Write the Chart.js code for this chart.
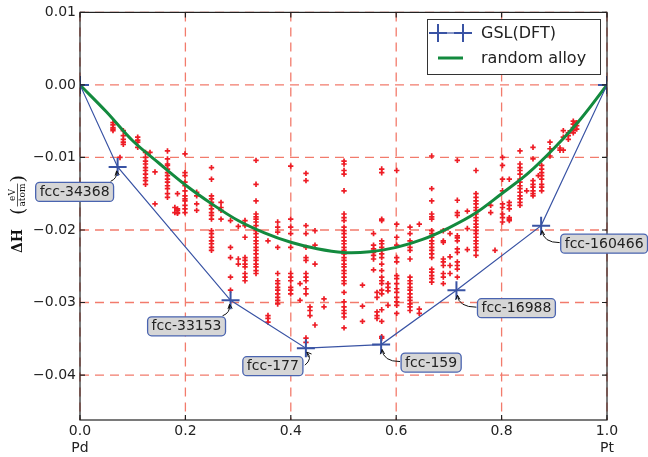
<!DOCTYPE html>
<html><head><meta charset="utf-8">
<script src="https://cdn.jsdelivr.net/npm/chart.js@4/dist/chart.umd.min.js"></script>
<style>html,body{margin:0;padding:0;background:#fff}canvas{display:block}</style>
</head><body>
<canvas id="c" width="648" height="457"></canvas>
<script>
// ---------- data ----------
const xTicks = [0, 0.2, 0.4, 0.6, 0.8, 1.0];
const yTicks = [0.01, 0, -0.01, -0.02, -0.03, -0.04];
const xEndNames = ['Pd', 'Pt'];

const alloyX = [0, 0.05, 0.1, 0.15, 0.2, 0.25, 0.3, 0.35, 0.4, 0.45, 0.5, 0.55, 0.6, 0.65, 0.7, 0.75, 0.8, 0.85, 0.9, 0.95, 1.0];
const alloyY = [0, -0.0037, -0.0077, -0.0108, -0.0138, -0.0164, -0.0187, -0.0204, -0.0217, -0.0226, -0.0231, -0.0230, -0.0224, -0.0213, -0.0197, -0.0177, -0.0150, -0.0122, -0.0087, -0.0047, 0];

const gslX = [0, 0.0714, 0.2857, 0.4286, 0.5714, 0.7143, 0.875, 1.0];
const gslY = [0, -0.0113, -0.0297, -0.0363, -0.0358, -0.0283, -0.0194, 0];
const gslNames = ['', 'fcc-34368', 'fcc-33153', 'fcc-177', 'fcc-159', 'fcc-16988', 'fcc-160466', ''];

const scatterX = [0.0626, 0.0759, 0.0822, 0.1095, 0.1243, 0.1328, 0.1423, 0.1660, 0.1800, 0.1850, 0.1992, 0.2214, 0.2495, 0.2676, 0.2856, 0.3004, 0.3131, 0.3340, 0.3567, 0.3751, 0.3998, 0.4175, 0.4288, 0.4364, 0.4459, 0.4630, 0.5010, 0.5360, 0.5570, 0.5636, 0.5725, 0.5844, 0.6010, 0.6262, 0.6438, 0.6674, 0.6894, 0.7021, 0.7160, 0.7350, 0.7514, 0.7793, 0.7875, 0.8017, 0.8146, 0.8349, 0.8476, 0.8596, 0.8697, 0.8760, 0.8918, 0.9108, 0.9171, 0.9266, 0.9360, 0.9425];
const scatterY = [
  [-0.0052,-0.0055,-0.0059,-0.0061,-0.0063],
  [-0.0100],
  [-0.0063,-0.0070,-0.0075,-0.0079,-0.0082],
  [-0.0072,-0.0076,-0.0079,-0.0086],
  [-0.0093,-0.0100,-0.0105,-0.0109,-0.0114,-0.0118,-0.0123,-0.0128,-0.0132,-0.0137],
  [-0.0093],
  [-0.0120,-0.0164],
  [-0.0091,-0.0102,-0.0109,-0.0111,-0.0116,-0.0121,-0.0125,-0.0130,-0.0134,-0.0139,-0.0143,-0.0150,-0.0155],
  [-0.0169,-0.0176],
  [-0.0150,-0.0171,-0.0173,-0.0176,-0.0177],
  [-0.0095,-0.0121,-0.0125,-0.0134,-0.0139,-0.0146,-0.0153,-0.0157,-0.0160,-0.0166,-0.0171,-0.0176],
  [-0.0148,-0.0153,-0.0164,-0.0173],
  [-0.0114,-0.0130,-0.0153,-0.0157,-0.0162,-0.0166,-0.0171,-0.0176,-0.0180,-0.0185,-0.0201,-0.0205,-0.0210,-0.0215,-0.0219,-0.0224,-0.0228],
  [-0.0162,-0.0169,-0.0173,-0.0185],
  [-0.0187,-0.0224,-0.0238,-0.0265,-0.0283],
  [-0.0195,-0.0240,-0.0247],
  [-0.0187,-0.0194,-0.0210,-0.0238,-0.0242,-0.0247,-0.0251,-0.0260,-0.0265,-0.0270],
  [-0.0104,-0.0137,-0.0160,-0.0178,-0.0182,-0.0185,-0.0189,-0.0194,-0.0201,-0.0205,-0.0210,-0.0215,-0.0219,-0.0224,-0.0228,-0.0233,-0.0238,-0.0242,-0.0247,-0.0251,-0.0256,-0.0260],
  [-0.0215,-0.0318,-0.0322,-0.0327],
  [-0.0189,-0.0196,-0.0203,-0.0224,-0.0260,-0.0270,-0.0274,-0.0279,-0.0283,-0.0288,-0.0293,-0.0297,-0.0302],
  [-0.0112,-0.0185,-0.0196,-0.0205,-0.0224,-0.0260,-0.0265,-0.0270,-0.0279,-0.0283,-0.0288],
  [-0.0274,-0.0297],
  [-0.0122,-0.0132,-0.0194,-0.0205,-0.0224,-0.0238,-0.0242,-0.0260,-0.0265,-0.0270,-0.0281,-0.0288,-0.0349,-0.0355],
  [-0.0306,-0.0311,-0.0318],
  [-0.0201,-0.0221,-0.0247,-0.0331],
  [-0.0295,-0.0306],
  [-0.0105,-0.0109,-0.0118,-0.0123,-0.0146,-0.0178,-0.0183,-0.0187,-0.0196,-0.0201,-0.0205,-0.0210,-0.0215,-0.0219,-0.0224,-0.0228,-0.0233,-0.0238,-0.0242,-0.0247,-0.0251,-0.0256,-0.0260,-0.0265,-0.0270,-0.0274,-0.0286,-0.0299,-0.0306,-0.0311,-0.0315,-0.0320,-0.0335],
  [-0.0276,-0.0305,-0.0326],
  [-0.0205,-0.0221,-0.0226,-0.0231,-0.0235,-0.0240,-0.0255],
  [-0.0286,-0.0293,-0.0313,-0.0318,-0.0322],
  [-0.0116,-0.0121,-0.0185,-0.0187,-0.0215,-0.0219,-0.0224,-0.0228,-0.0233,-0.0238,-0.0247,-0.0256,-0.0265,-0.0270,-0.0274,-0.0283,-0.0288,-0.0310,-0.0326,-0.0347,-0.0349],
  [-0.0274,-0.0279,-0.0284,-0.0304],
  [-0.0118,-0.0192,-0.0210,-0.0221,-0.0238,-0.0244,-0.0263,-0.0267,-0.0274,-0.0281,-0.0286,-0.0293,-0.0299,-0.0304,-0.0315],
  [-0.0196,-0.0205,-0.0215,-0.0224,-0.0228,-0.0240,-0.0265,-0.0270,-0.0274,-0.0279,-0.0283,-0.0288,-0.0293,-0.0297,-0.0302,-0.0306,-0.0311],
  [-0.0192,-0.0309,-0.0315],
  [-0.0098,-0.0143,-0.0160,-0.0178,-0.0182,-0.0185,-0.0201,-0.0205,-0.0210,-0.0215,-0.0219,-0.0224,-0.0228,-0.0233,-0.0238,-0.0254,-0.0258,-0.0263,-0.0267,-0.0272],
  [-0.0201,-0.0215,-0.0217,-0.0240,-0.0244,-0.0249,-0.0260,-0.0265,-0.0274],
  [-0.0205,-0.0237,-0.0249,-0.0260],
  [-0.0104,-0.0159,-0.0176,-0.0180,-0.0208,-0.0211,-0.0215,-0.0226,-0.0231,-0.0244,-0.0249,-0.0254,-0.0265],
  [-0.0174,-0.0198,-0.0227],
  [-0.0118,-0.0150,-0.0155,-0.0160,-0.0164,-0.0169,-0.0173,-0.0178,-0.0183,-0.0187,-0.0192,-0.0196,-0.0201,-0.0205,-0.0210,-0.0215,-0.0219,-0.0224,-0.0228,-0.0235],
  [-0.0166,-0.0176],
  [-0.0228],
  [-0.0100,-0.0111,-0.0130,-0.0146,-0.0164,-0.0169,-0.0178,-0.0183,-0.0189],
  [-0.0130,-0.0162,-0.0166,-0.0171,-0.0183,-0.0185,-0.0187],
  [-0.0091,-0.0109,-0.0114,-0.0118,-0.0123,-0.0130,-0.0134,-0.0139,-0.0143,-0.0148,-0.0153,-0.0157,-0.0162,-0.0166],
  [-0.0146],
  [-0.0086,-0.0102,-0.0132,-0.0137,-0.0141,-0.0146,-0.0150,-0.0153],
  [-0.0125],
  [-0.0111,-0.0116,-0.0121,-0.0125,-0.0130,-0.0137,-0.0141,-0.0146],
  [-0.0079,-0.0088,-0.0098],
  [-0.0087,-0.0090],
  [-0.0063,-0.0072,-0.0090],
  [-0.0066,-0.0070,-0.0075],
  [-0.0050,-0.0054,-0.0059,-0.0063,-0.0066],
  [-0.0052,-0.0056,-0.0061]
];

// ---------- styling ----------
const RED = '#ee1c25', BLUE = '#3953a4', GREEN = '#138a3e', GRID = '#f27b6c', INK = '#222222';
const FONT = '"DejaVu Sans", sans-serif';
const annotStyle = [null, [-43, 25, 'up'], [-44, 26, 'up'], [-33, 18, 'curl'], [50, 18, 'side'], [60, 18, 'side'], [63, 18, 'side'], null];

const scatterPts = scatterX.flatMap((x, i) => scatterY[i].map(y => ({x, y})));
const alloyPts = alloyX.map((x, i) => ({x, y: alloyY[i]}));
const gslPts = gslX.map((x, i) => ({x, y: gslY[i]}));

const gridPlugin = {
  id: 'grid',
  beforeDatasetsDraw(chart) {
    const {ctx, chartArea: a, scales: {x, y}} = chart;
    ctx.save();
    ctx.strokeStyle = GRID; ctx.lineWidth = 1.3; ctx.setLineDash([9, 6]);
    xTicks.forEach(v => { const p = x.getPixelForValue(v); ctx.beginPath(); ctx.moveTo(p, a.top); ctx.lineTo(p, a.bottom); ctx.stroke(); });
    yTicks.forEach(v => { const p = y.getPixelForValue(v); ctx.beginPath(); ctx.moveTo(a.left, p); ctx.lineTo(a.right, p); ctx.stroke(); });
    ctx.restore();
  }
};

function arrow(ctx, sx, sy, cx, cy, ex, ey) {
  ctx.beginPath(); ctx.moveTo(sx, sy); ctx.quadraticCurveTo(cx, cy, ex, ey); ctx.stroke();
  const ang = Math.atan2(ey - cy, ex - cx), L = 5, w = 0.45;
  ctx.beginPath();
  ctx.moveTo(ex - L * Math.cos(ang - w), ey - L * Math.sin(ang - w));
  ctx.lineTo(ex, ey);
  ctx.lineTo(ex - L * Math.cos(ang + w), ey - L * Math.sin(ang + w));
  ctx.stroke();
}

const framePlugin = {
  id: 'frame',
  afterDatasetsDraw(chart) {
    const {ctx, chartArea: a, scales: {x, y}} = chart;
    ctx.save();
    ctx.strokeStyle = INK; ctx.lineWidth = 1.2; ctx.setLineDash([]);
    ctx.strokeRect(a.left, a.top, a.right - a.left, a.bottom - a.top);
    const T = 5;
    xTicks.forEach(v => { const p = x.getPixelForValue(v);
      ctx.beginPath(); ctx.moveTo(p, a.bottom); ctx.lineTo(p, a.bottom - T); ctx.moveTo(p, a.top); ctx.lineTo(p, a.top + T); ctx.stroke(); });
    yTicks.forEach(v => { const p = y.getPixelForValue(v);
      ctx.beginPath(); ctx.moveTo(a.left, p); ctx.lineTo(a.left + T, p); ctx.moveTo(a.right, p); ctx.lineTo(a.right - T, p); ctx.stroke(); });

    ctx.font = '14px ' + FONT;
    gslNames.forEach((name, i) => {
      const st = annotStyle[i];
      if (!name || !st) return;
      const px = x.getPixelForValue(gslX[i]), py = y.getPixelForValue(gslY[i]);
      const cx = px + st[0], cy = py + st[1];
      const tw = ctx.measureText(name).width;
      const bw = tw + 8, bh = 19;
      const bl = cx - bw / 2, bt = cy - bh / 2;
      ctx.strokeStyle = '#111'; ctx.lineWidth = 1;
      if (st[2] === 'side') {
        const sx = bl - 1, sy = cy - 1, ex = px + 1, ey = py + 5;
        arrow(ctx, sx, sy, ex + 1, sy, ex, ey);
      } else if (st[2] === 'up') {
        const sx = bl + bw - 3, sy = bt - 1, ex = px - 1, ey = py + 4;
        arrow(ctx, sx, sy, ex + 1, sy - 3, ex, ey);
      } else {
        const sx = bl + bw + 2, sy = cy - 1, ex = px + 1, ey = py + 4;
        arrow(ctx, sx, sy, sx + 8, (sy + ey) / 2, ex, ey);
      }
      ctx.beginPath(); ctx.roundRect(bl, bt, bw, bh, 4);
      ctx.fillStyle = '#d6d6d6'; ctx.fill();
      ctx.strokeStyle = '#4a64b0'; ctx.lineWidth = 1.3; ctx.stroke();
      ctx.fillStyle = INK; ctx.textAlign = 'center'; ctx.textBaseline = 'middle';
      ctx.fillText(name, cx, cy + 0.5);
    });

    const ds = chart.data.datasets;
    const L = {l: 427, t: 19, r: 600, b: 74};
    ctx.fillStyle = '#fff'; ctx.fillRect(L.l, L.t, L.r - L.l, L.b - L.t);
    ctx.strokeStyle = '#333'; ctx.lineWidth = 1; ctx.strokeRect(L.l + 0.5, L.t + 0.5, L.r - L.l, L.b - L.t);
    const hx0 = 438, hx1 = 463, tx = 481, r1 = 33, r2 = 58;
    ctx.strokeStyle = ds[0].borderColor; ctx.lineWidth = 1.2;
    ctx.beginPath(); ctx.moveTo(hx0, r1); ctx.lineTo(hx1, r1); ctx.stroke();
    ctx.lineWidth = 2;
    [hx0, hx1].forEach(h => { ctx.beginPath(); ctx.moveTo(h - 9, r1); ctx.lineTo(h + 9, r1); ctx.moveTo(h, r1 - 9); ctx.lineTo(h, r1 + 9); ctx.stroke(); });
    ctx.strokeStyle = ds[1].borderColor; ctx.lineWidth = 3;
    ctx.beginPath(); ctx.moveTo(hx0, r2); ctx.lineTo(hx1, r2); ctx.stroke();
    ctx.fillStyle = INK; ctx.font = '16px ' + FONT; ctx.textAlign = 'left'; ctx.textBaseline = 'middle';
    ctx.fillText(ds[0].label, tx, r1 + 1);
    ctx.fillText(ds[1].label, tx, r2 + 1);
    ctx.restore();
  },
  afterDraw(chart) {
    const ctx = chart.ctx;
    ctx.save();
    ctx.setTransform(1, 0, 0, 1, 0, 0);
    ctx.translate(17, 253); ctx.rotate(-Math.PI / 2);
    ctx.fillStyle = '#111'; ctx.textBaseline = 'alphabetic'; ctx.textAlign = 'left';
    ctx.font = 'bold 14px "DejaVu Serif", serif';
    ctx.fillText('\u0394H', 0, 5);
    let cx = ctx.measureText('\u0394H').width + 14;
    ctx.font = '19px "DejaVu Serif", serif';
    ctx.fillText('(', cx, 7);
    cx += ctx.measureText('(').width + 1;
    ctx.font = '9px "DejaVu Serif", serif';
    const fw = ctx.measureText('atom').width;
    ctx.textAlign = 'center';
    ctx.fillText('eV', cx + fw / 2, -2);
    ctx.fillText('atom', cx + fw / 2, 8);
    ctx.strokeStyle = '#111'; ctx.lineWidth = 0.7;
    ctx.beginPath(); ctx.moveTo(cx, 0.5); ctx.lineTo(cx + fw, 0.5); ctx.stroke();
    cx += fw + 1;
    ctx.textAlign = 'left';
    ctx.font = '19px "DejaVu Serif", serif';
    ctx.fillText(')', cx, 7);
    ctx.restore();
  }
};

new Chart(document.getElementById('c'), {
  type: 'scatter',
  data: {
    datasets: [
      { label: 'GSL(DFT)', data: gslPts, showLine: true, borderColor: BLUE, borderWidth: 1.2,
        pointStyle: 'cross', pointRadius: 9, pointBorderWidth: 2, pointBorderColor: BLUE, pointBackgroundColor: BLUE, clip: 0 },
      { label: 'random alloy', data: alloyPts, showLine: true, borderColor: GREEN, borderWidth: 3,
        pointRadius: 0, tension: 0.35, clip: 0 },
      { label: 'structures', data: scatterPts, showLine: false, pointStyle: 'cross', pointRadius: 2.7,
        pointBorderWidth: 1.7, pointBorderColor: RED, pointBackgroundColor: RED, borderColor: RED }
    ]
  },
  options: {
    responsive: false, animation: false, devicePixelRatio: 1,
    layout: { padding: { left: 0, right: 41, top: 12, bottom: 0 } },
    plugins: { legend: { display: false }, tooltip: { enabled: false } },
    scales: {
      x: {
        type: 'linear', min: 0, max: 1,
        grid: { display: false, drawTicks: false }, border: { display: false },
        afterBuildTicks: ax => { ax.ticks = xTicks.map(v => ({value: v})); },
        afterFit: s => { s.height = 37; },
        ticks: { padding: 3, color: INK, font: { family: FONT, size: 14 }, maxRotation: 0, autoSkip: false,
          callback: v => { const s = v.toFixed(1); if (v === 0) return [s, xEndNames[0]]; if (v === 1) return [s, xEndNames[1]]; return s; } }
      },
      y: {
        type: 'linear', min: -0.0462, max: 0.01,
        grid: { display: false, drawTicks: false }, border: { display: false },
        afterBuildTicks: ax => { ax.ticks = yTicks.map(v => ({value: v})); },
        afterFit: s => { s.width = 80; },
        ticks: { padding: 4, color: INK, font: { family: FONT, size: 14 }, autoSkip: false,
          callback: v => (v < 0 ? '\u2212' : '') + Math.abs(v).toFixed(2) }
      }
    }
  },
  plugins: [gridPlugin, framePlugin]
});
</script>
</body></html>
